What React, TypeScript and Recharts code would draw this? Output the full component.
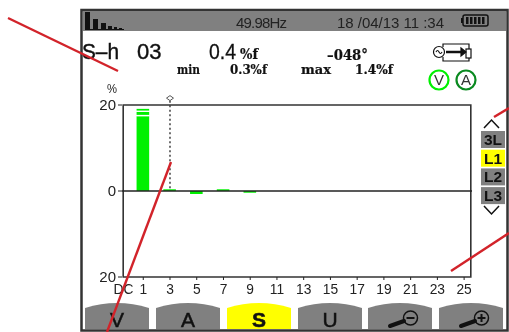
import {
  BarChart,
  Bar,
  XAxis,
  YAxis,
  ReferenceArea,
  ReferenceLine,
  ReferenceDot,
} from "recharts";

const orders = [
  "DC", "1", "2", "3", "4", "5", "6", "7", "8", "9", "10", "11", "12",
  "13", "14", "15", "16", "17", "18", "19", "20", "21", "22", "23", "24", "25",
];
const levels = [
  0, 17.4, 0, 0.4, 0, -0.7, 0, 0.4, 0, -0.4, 0, 0, 0,
  0, 0, 0, 0, 0, 0, 0, 0, 0, 0, 0, 0, 0,
];
// the fundamental bar is cut by two thin white scan lines on the device
const scanGapLow = 0.3;
const scanMid = 0.7;
const scanGapHigh = 0.3;
const scanTop = 0.4;

const xTicks = ["DC", "1", "3", "5", "7", "9", "11", "13", "15", "17", "19", "21", "23", "25"];
const yTicks = [-20, 0, 20];
const cursorOrder = "3";

const phaseTabs = ["3L", "L1", "L2", "L3"];
const modeTabs = ["V", "A", "S", "U"];

const data = orders.map((order, i) => ({
  order,
  level: levels[i],
  gapLow: order === "1" ? scanGapLow : 0,
  mid: order === "1" ? scanMid : 0,
  gapHigh: order === "1" ? scanGapHigh : 0,
  top: order === "1" ? scanTop : 0,
}));

const SANS = "'Liberation Sans', Arial, sans-serif";
const SERIF = "'DejaVu Serif', serif";
const INK = "#222222";
const GREEN = "#00f000";
const GRAY = "#808080";

function OrderTick({ x, y, payload }: any) {
  const isDc = payload.value === "DC";
  const tx = isDc ? x - 6.5 : x;
  return (
    <g>
      {!isDc && <line x1={x} x2={x} y1={y - 8} y2={y - 5} stroke={INK} strokeWidth={1} />}
      <text
        x={tx}
        y={y + 9}
        textAnchor="middle"
        fontFamily={SANS}
        fontSize={15}
        fill={INK}
        transform={`translate(${tx} 0) scale(0.92 1) translate(${-tx} 0)`}
      >
        {payload.value}
      </text>
    </g>
  );
}

function CursorMark({ cx, cy }: any) {
  return (
    <polygon
      points={`${cx - 3.5},${cy} ${cx},${cy - 2.5} ${cx + 3.5},${cy} ${cx},${cy + 2.5}`}
      fill="#fff"
      stroke="#555"
      strokeWidth={1}
    />
  );
}

function ModeTab({ x, label, active }: { x: number; label?: string; active?: boolean }) {
  return (
    <g>
      <path
        d={`M${x} 329 V308 Q${x + 32} 298 ${x + 64} 308 V329 Z`}
        fill={active ? "#ffff00" : GRAY}
      />
      {label && (
        <text
          x={x + 32}
          y={327}
          textAnchor="middle"
          fontFamily={SANS}
          fontSize={21}
          fontWeight={active ? 700 : 400}
          fill="#111"
          stroke="#111"
          strokeWidth={0.5}
        >
          {label}
        </text>
      )}
    </g>
  );
}

function Zoom({ x, sign }: { x: number; sign: "-" | "+" }) {
  return (
    <g stroke="#111" fill="none">
      <circle cx={x + 42.5} cy={318} r={7} strokeWidth={1.5} />
      <line x1={x + 22} y1={326} x2={x + 36} y2={321} strokeWidth={4} strokeLinecap="round" />
      <line x1={x + 38.5} y1={318} x2={x + 46.5} y2={318} strokeWidth={2} />
      {sign === "+" && <line x1={x + 42.5} y1={314} x2={x + 42.5} y2={322} strokeWidth={2} />}
    </g>
  );
}

function Panel() {
  return (
    <svg
      width={509}
      height={332}
      style={{ position: "absolute", left: 0, top: 0 }}
    >
      {/* frame and status bar */}
      <rect x={81.5} y={10} width={426} height={320.5} fill="#fff" stroke="#333" strokeWidth={2.5} />
      <rect x={83} y={11} width={423} height={20} fill={GRAY} />
      <g fill="#111">
        <rect x={85} y={12} width={5} height={18} />
        <rect x={93} y={19} width={5} height={11} />
        <rect x={101} y={23} width={5} height={7} />
        <rect x={108} y={26} width={4} height={4} />
        <rect x={114} y={27} width={3} height={3} />
        <rect x={119} y={28} width={3} height={2} />
        <rect x={85} y={29} width={39} height={1} />
      </g>
      <g fontFamily={SANS} fontSize={15} fill="#222">
        <text x={236} y={28} textLength={51}>49.98Hz</text>
        <text x={337} y={28} textLength={107}>18 /04/13  11 :34</text>
      </g>
      <rect x={463} y={15} width={25} height={11} rx={2} fill="none" stroke="#111" strokeWidth={1.5} />
      <rect x={461} y={18} width={2} height={5} fill="#111" />
      {[466, 470, 474, 478, 482].map((bx) => (
        <rect key={bx} x={bx} y={17} width={2.5} height={7} fill="#111" />
      ))}

      {/* readings */}
      <g fontFamily={SANS} fill="#111">
        <text x={82} y={59} fontSize={22} stroke="#111" strokeWidth={0.4} textLength={37} lengthAdjust="spacingAndGlyphs">S–h</text>
        <text x={137} y={59} fontSize={22} stroke="#111" strokeWidth={0.4}>03</text>
        <text x={209} y={59} fontSize={22} stroke="#111" strokeWidth={0.3} textLength={27} lengthAdjust="spacingAndGlyphs">0.4</text>
        <text x={107} y={93} fontSize={13} fill={INK} textLength={10} lengthAdjust="spacingAndGlyphs">%</text>
      </g>
      <g fontFamily={SERIF} fontWeight={700} fill="#111" stroke="#111" strokeWidth={0.2}>
        <text x={240} y={59} fontSize={14} textLength={18} lengthAdjust="spacingAndGlyphs">%f</text>
        <text x={177} y={74} fontSize={12} textLength={23} lengthAdjust="spacingAndGlyphs">min</text>
        <text x={230} y={74} fontSize={12} textLength={37} lengthAdjust="spacingAndGlyphs">0.3%f</text>
        <text x={327} y={60} fontSize={14} textLength={41} lengthAdjust="spacingAndGlyphs">–048°</text>
        <text x={301} y={74} fontSize={12} textLength={30} lengthAdjust="spacingAndGlyphs">max</text>
        <text x={355} y={74} fontSize={12} textLength={38} lengthAdjust="spacingAndGlyphs">1.4%f</text>
      </g>

      {/* source icon */}
      <g stroke="#111" fill="none" strokeWidth={1.2}>
        <circle cx={439} cy={52} r={5.5} />
        <path d="M436 52 q1.5 -3 3 0 t3 0" />
        <polyline points="443,47 443,44 469,44 469,61 443,61 443,57" />
        <rect x={466} y={49} width={5} height={9} fill="#fff" />
        <line x1={446} y1={52} x2={463} y2={52} strokeWidth={2.5} />
        <polygon points="461,48 466,52 461,56" fill="#111" />
      </g>
      <circle cx={439} cy={80} r={9.5} fill="#fff" stroke={GREEN} strokeWidth={2.2} />
      <circle cx={466} cy={80} r={9.5} fill="#fff" stroke="#0a8a20" strokeWidth={2.2} />
      <g fontFamily={SANS} fontSize={15} fill="#333" textAnchor="middle">
        <text x={439} y={85}>V</text>
        <text x={466} y={85}>A</text>
      </g>

      {/* phase selector */}
      <polyline points="484,128 491.5,120 499,128" fill="none" stroke="#111" strokeWidth={1.5} />
      {phaseTabs.map((label, i) => (
        <g key={label}>
          <rect
            x={481}
            y={131 + i * 18.7}
            width={24}
            height={17}
            fill={label === "L1" ? "#ffff00" : GRAY}
          />
          <text
            x={493}
            y={145 + i * 18.7}
            textAnchor="middle"
            fontFamily={SANS}
            fontSize={15.5}
            fontWeight={700}
            fill="#111"
          >
            {label}
          </text>
        </g>
      ))}
      <polyline points="484,206 491.5,214 499,206" fill="none" stroke="#111" strokeWidth={1.5} />

      {/* bottom tabs */}
      {modeTabs.map((label, i) => (
        <ModeTab key={label} x={85 + i * 71} label={label} active={label === "S"} />
      ))}
      <ModeTab x={368} />
      <ModeTab x={439} />
      <Zoom x={368} sign="-" />
      <Zoom x={439} sign="+" />
    </svg>
  );
}

function RedStrokes() {
  return (
    <svg
      width={509}
      height={332}
      style={{ position: "absolute", left: 0, top: 0, pointerEvents: "none" }}
    >
      <g stroke="#d2232a" strokeWidth={2.4}>
        <line x1={8} y1={18} x2={118} y2={71} />
        <line x1={107} y1={332} x2={171} y2={162} />
        <line x1={509} y1={108} x2={494} y2={117} />
        <line x1={509} y1={233} x2={451} y2={271} />
      </g>
    </svg>
  );
}

export default function App() {
  return (
    <div style={{ position: "absolute", left: 0, top: 0, width: 509, height: 332, overflow: "hidden", background: "#fff", filter: "blur(0.35px)" }}>
      <Panel />
      <div style={{ position: "absolute", left: 0, top: 0 }}>
        <BarChart
          width={509}
          height={332}
          data={data}
          margin={{ top: 105, right: 37, bottom: 25, left: 92 }}
          barCategoryGap={0.4}
          barSize={12.6}
        >
          <XAxis
            dataKey="order"
            ticks={xTicks}
            interval={0}
            padding={{ left: 1.2, right: 1.2 }}
            tick={<OrderTick />}
            tickLine={false}
            axisLine={false}
            height={30}
          />
          <YAxis
            domain={[-20, 20]}
            ticks={yTicks}
            tickFormatter={(v: number) => String(Math.abs(v))}
            tick={{ fontSize: 15, fontFamily: SANS, fill: INK }}
            tickSize={4}
            tickMargin={2}
            tickLine={{ stroke: INK }}
            axisLine={false}
            width={30}
            allowDataOverflow
          />
          <ReferenceArea y1={-20} y2={20} fill="none" stroke="#333" strokeWidth={1.6} />
          <ReferenceLine y={0} stroke={INK} strokeWidth={1.3} />
          <Bar dataKey="level" stackId="h" fill={GREEN} isAnimationActive={false} />
          <Bar dataKey="gapLow" stackId="h" fill="#ffffff" isAnimationActive={false} />
          <Bar dataKey="mid" stackId="h" fill={GREEN} isAnimationActive={false} />
          <Bar dataKey="gapHigh" stackId="h" fill="#ffffff" isAnimationActive={false} />
          <Bar dataKey="top" stackId="h" fill={GREEN} isAnimationActive={false} />
          <ReferenceLine
            segment={[{ x: cursorOrder, y: 21 }, { x: cursorOrder, y: 0 }]}
            stroke="#333"
            strokeDasharray="2 2.5"
            strokeWidth={1.4}
            ifOverflow="visible"
          />
          <ReferenceDot
            x={cursorOrder}
            y={21.6}
            ifOverflow="visible"
            shape={<CursorMark />}
          />
        </BarChart>
      </div>
      <RedStrokes />
    </div>
  );
}
